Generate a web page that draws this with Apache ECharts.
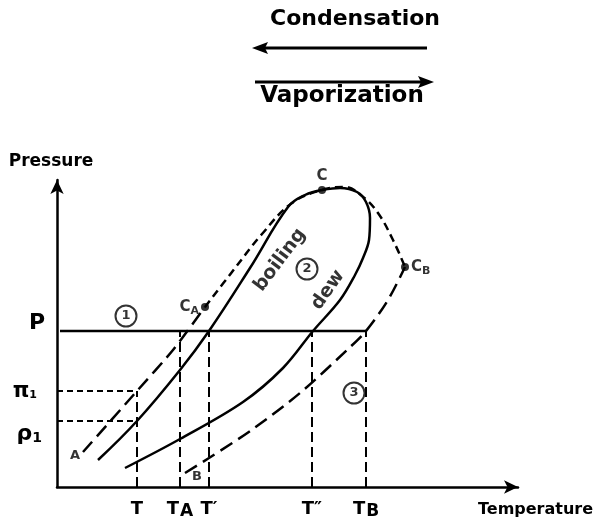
<!DOCTYPE html>
<html>
<head>
<meta charset="UTF-8">
<title>Condensation / Vaporization</title>
<script src="https://cdn.jsdelivr.net/npm/echarts@6.0.0/dist/echarts.min.js"></script>
<style>
  html, body { margin: 0; padding: 0; background: #fff; }
  #main { width: 599px; height: 528px; }
</style>
</head>
<body>
<div id="main"></div>
<script>
// curves in axis units (temperature to the right, pressure up)
var boilingCurve = [[41,27],[80,66],[123,117],[152,156],[193,219],[231,280],[248,292],[265,297]];
var dewCurve = [[265,297],[283,299],[300,295],[309,285],[313,269],[312,247],[306,229],[298,212],[283,187],[256,156],[226,119],[186,85],[123,48],[68,19]];
var vaporA = [[26,35],[80,96],[116,137],[148,180]];
var vaporB = [[128,14],[152,29],[196,58],[243,94],[290,137],[309,156],[331,187],[348,220]];
var criticalLocus = [[148,180],[175,215],[205,253],[235,284],[265,297],[288,300],[305,291],[321,274],[336,247],[348,220]];

// pressure levels
var pLevel = 156, pi1Level = 96, p1Level = 66;
var pLineStart = 3, pLineEnd = 309;

// temperature ticks
var tempTicks = [80, 123, 152, 255, 309];
var tempMain = ['T', 'T', 'T\u2032', 'T\u2033', 'T'];
var tempSub = ['', 'A', '', '', 'B'];
var tempLineTop = [96, 156, 156, 156, 156];

// pressure ticks
var pressTicks = [66, 96, 156];
var pressMain = ['\u03C1', '\u03C0', 'P'];
var pressSub = ['1', '1', ''];

// critical points
var critPoints = [[148,180],[265,297],[348,220]];
var critSub = ['A', '', 'B'];

// regions, pure components, curve names
var regionPoints = [[69,171],[250,218],[297,94]];
var regionNames = ['1', '2', '3'];
var purePoints = [[18,31],[140,10]];
var pureNames = ['A', 'B'];
var curveNamePoints = [[223,227],[271,197]];
var curveNames = ['boiling', 'dew'];

var FONT = 'DejaVu Sans';

var chart = echarts.init(document.getElementById('main'));

function lineSeries(data, dash, width, smooth) {
  return {
    type: 'line',
    data: data,
    smooth: smooth || false,
    showSymbol: false,
    symbol: 'none',
    silent: true,
    clip: false,
    lineStyle: { color: '#000', width: width, type: dash || 'solid' }
  };
}

var series = [];
series.push(lineSeries(boilingCurve, null, 2.5, 0.4));
series.push(lineSeries(dewCurve, null, 2.5, 0.35));
series.push(lineSeries(vaporA, [14, 7], 2.5, 0.2));
series.push(lineSeries(vaporB, [14, 7], 2.5, 0.3));
series.push(lineSeries(criticalLocus, [8, 5], 2.5, 0.4));
series.push(lineSeries([[pLineStart, pLevel], [pLineEnd, pLevel]], null, 2.5));
series.push(lineSeries([[0, pi1Level], [tempTicks[0], pi1Level]], [6, 4], 2));
series.push(lineSeries([[0, p1Level], [tempTicks[0], p1Level]], [6, 4], 2));
for (var i = 0; i < tempTicks.length; i++) {
  series.push(lineSeries([[tempTicks[i], 0], [tempTicks[i], tempLineTop[i]]], [10, 5], 2));
}

// critical point dots with labels
series.push({
  type: 'scatter',
  silent: true,
  symbolSize: 8,
  itemStyle: { color: '#000' },
  data: critPoints.map(function (p, i) {
    var pos = i === 0 ? 'left' : (i === 1 ? 'top' : 'right');
    return {
      value: p,
      label: {
        show: true,
        position: pos,
        distance: 2,
        formatter: critSub[i] ? '{m|C}{s|' + critSub[i] + '}' : '{m|C}',
        rich: {
          m: { fontFamily: FONT, fontSize: 15, fontWeight: 'bold', color: '#000' },
          s: { fontFamily: FONT, fontSize: 11, fontWeight: 'bold', color: '#000', padding: [8, 0, 0, 0] }
        }
      }
    };
  })
});

// circled region numbers
series.push({
  type: 'scatter',
  silent: true,
  symbolSize: 21,
  itemStyle: { color: '#fff', borderColor: '#000', borderWidth: 2 },
  label: {
    show: true,
    position: 'inside',
    formatter: '{b}',
    fontFamily: FONT,
    fontSize: 13,
    fontWeight: 'bold',
    color: '#000'
  },
  data: regionPoints.map(function (p, i) { return { name: regionNames[i], value: p }; })
});

// pure component labels
series.push({
  type: 'scatter',
  silent: true,
  symbolSize: 0,
  label: {
    show: true,
    position: 'inside',
    formatter: '{b}',
    fontFamily: FONT,
    fontSize: 13,
    fontWeight: 'bold',
    color: '#000'
  },
  data: purePoints.map(function (p, i) { return { name: pureNames[i], value: p }; })
});

// curve names, rotated along the curves
series.push({
  type: 'scatter',
  silent: true,
  symbolSize: 0,
  data: curveNamePoints.map(function (p, i) {
    return {
      name: curveNames[i],
      value: p,
      label: {
        show: true,
        position: 'inside',
        formatter: '{b}',
        rotate: i === 0 ? 53 : 55,
        fontFamily: FONT,
        fontSize: 19,
        fontWeight: 'bold',
        color: '#000'
      }
    };
  })
});

var option = {
  animation: false,
  backgroundColor: '#fff',
  grid: { left: 57, right: 81, top: 180, bottom: 41, outerBoundsMode: 'none' },
  xAxis: {
    type: 'value',
    min: 0,
    max: 461,
    name: 'Temperature',
    nameLocation: 'end',
    nameGap: -40,
    nameTextStyle: { fontFamily: FONT, fontSize: 16, fontWeight: 'bold', color: '#000', align: 'left', verticalAlign: 'top', padding: [15, 0, 0, 0] },
    splitLine: { show: false },
    axisTick: { show: false },
    axisLine: { symbol: ['none', 'arrow'], symbolSize: [10, 14], lineStyle: { color: '#000', width: 2.5 } },
    axisLabel: {
      customValues: tempTicks,
      margin: 13,
      formatter: function (v) {
        var i = tempTicks.indexOf(v);
        if (i < 0) return '';
        return tempSub[i] ? '{m|' + tempMain[i] + '}{s|' + tempSub[i] + '}' : '{m|' + tempMain[i] + '}';
      },
      rich: {
        m: { fontFamily: FONT, fontSize: 18, fontWeight: 'bold', color: '#000', verticalAlign: 'top', lineHeight: 20 },
        s: { fontFamily: FONT, fontSize: 17, fontWeight: 'bold', color: '#000', verticalAlign: 'bottom', lineHeight: 18, padding: [9, 0, 0, 1] }
      }
    }
  },
  yAxis: {
    type: 'value',
    min: 0,
    max: 307,
    name: 'Pressure',
    nameLocation: 'end',
    nameGap: 10,
    nameTextStyle: { fontFamily: FONT, fontSize: 17, fontWeight: 'bold', color: '#000', align: 'center', padding: [0, 12, 0, 0] },
    splitLine: { show: false },
    axisTick: { show: false },
    axisLine: { symbol: ['none', 'arrow'], symbolSize: [10, 14], lineStyle: { color: '#000', width: 2.5 } },
    axisLabel: {
      customValues: pressTicks,
      margin: 12,
      formatter: function (v) {
        var i = pressTicks.indexOf(v);
        if (i < 0) return '';
        if (i === 0) return '{p|' + pressMain[i] + '}{ps|' + pressSub[i] + '}';
        if (i === 1) return '{g|' + pressMain[i] + '}{gs|' + pressSub[i] + '}';
        return '{P|' + pressMain[i] + '}';
      },
      rich: {
        P: { fontFamily: FONT, fontSize: 22, fontWeight: 'bold', color: '#000', padding: [0, 0, 16, 0] },
        g: { fontFamily: FONT, fontSize: 21, fontWeight: 'bold', color: '#000', verticalAlign: 'top', lineHeight: 20 },
        gs: { fontFamily: FONT, fontSize: 11, fontWeight: 'bold', color: '#000', verticalAlign: 'bottom', lineHeight: 12, padding: [8, 8, 0, 0] },
        p: { fontFamily: FONT, fontSize: 22, fontWeight: 'bold', color: '#000', verticalAlign: 'bottom', padding: [26, 0, 0, 0] },
        ps: { fontFamily: FONT, fontSize: 14, fontWeight: 'bold', color: '#000', verticalAlign: 'bottom', padding: [34, 3, 0, 0] }
      }
    }
  },
  graphic: [
    { type: 'text', x: 355, y: 19, style: { text: 'Condensation', font: 'bold 22px "DejaVu Sans"', fill: '#000', align: 'center', verticalAlign: 'middle' } },
    { type: 'line', shape: { x1: 262, y1: 48, x2: 427, y2: 48 }, style: { stroke: '#000', lineWidth: 3 } },
    { type: 'polygon', shape: { points: [[252, 48], [268, 42], [265, 48], [268, 54]] }, style: { fill: '#000' } },
    { type: 'line', shape: { x1: 255, y1: 82, x2: 424, y2: 82 }, style: { stroke: '#000', lineWidth: 3 } },
    { type: 'polygon', shape: { points: [[434, 82], [418, 76], [421, 82], [418, 88]] }, style: { fill: '#000' } },
    { type: 'text', x: 342, y: 96, style: { text: 'Vaporization', font: 'bold 23px "DejaVu Sans"', fill: '#000', align: 'center', verticalAlign: 'middle' } }
  ],
  series: series
};

chart.setOption(option);
</script>
</body>
</html>
